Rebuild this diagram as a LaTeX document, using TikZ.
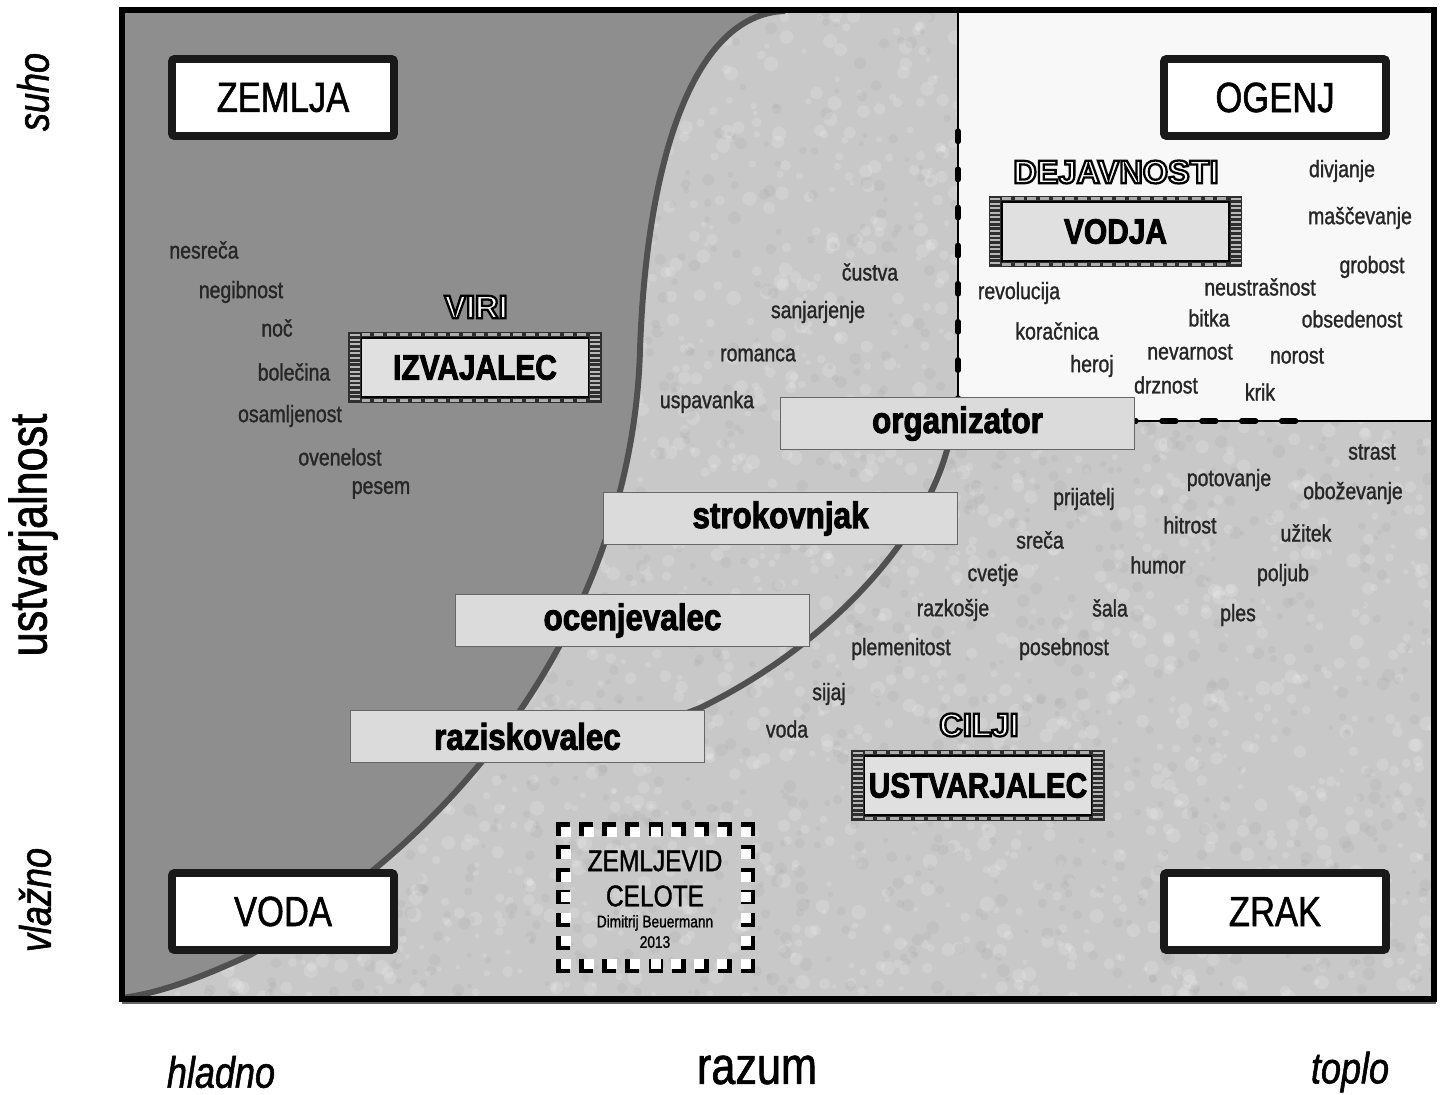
\documentclass[tikz,border=0pt]{standalone}
\usepackage{fontspec}
\setmainfont{Liberation Sans}[FakeStretch=0.82, FakeBold=1.2]
\newfontfamily\heavyfont{Liberation Sans}[FakeStretch=0.85, FakeBold=2.5]
\newfontfamily\rimfont{Liberation Sans}[FakeBold=7]
\usetikzlibrary{calc}

\definecolor{darkzone}{HTML}{8E8E8E}
\definecolor{lightzone}{HTML}{C8C8C8}
\definecolor{firezone}{HTML}{F8F8F8}
\definecolor{curveline}{HTML}{505050}

\tikzset{
  element/.style={draw=black!90, line width=4.5pt, fill=white, rounded corners=1.5pt,
    minimum width=4.44cm, minimum height=1.54cm, font=\fontsize{24}{28}\selectfont},
  role/.style={draw=black!60, line width=1pt, fill=black!14, inner sep=0pt,
    minimum width=7.08cm, minimum height=1.04cm, font=\heavyfont\bfseries\fontsize{21}{24}\selectfont},
  filmframe/.style={fill=black!82, inner sep=0pt, minimum width=5.08cm, minimum height=1.44cm},
  filmholes/.style={line width=1.7pt, black!32, dash pattern=on 5pt off 2.2pt},
  filmrungs/.style={line width=5.6pt, black!28, dash pattern=on 1.1pt off 1.5pt},
  filminner/.style={fill=black!12, draw=black, line width=0.8pt, inner sep=0pt,
    minimum width=4.54cm, minimum height=1.18cm, font=\heavyfont\bfseries\fontsize{20}{24}\selectfont},
  hollow/.style={font=\rimfont\bfseries\fontsize{18.5}{22}\selectfont},
  word/.style={text=black!85, font=\fontsize{13.5}{16}\selectfont},
  axis/.style={font=\fontsize{30}{34}\selectfont},
  pole/.style={font=\itshape\fontsize{25}{30}\selectfont},
  mapnote/.style={font=\fontsize{17}{20}\selectfont},
  border/.style={curveline, line width=3.4pt},
}

% framed box in film strip look: name, centre, text
\newcommand\filmbox[3]{%
  \node[filmframe] (#1) at (#2) {};
  \draw[filmholes] ($(#1.north west)+(14,3)$) -- ($(#1.north east)+(-14,3)$);
  \draw[filmholes] ($(#1.south west)+(14,-3)$) -- ($(#1.south east)+(-14,-3)$);
  \draw[filmrungs] ($(#1.north west)+(7,3)$) -- ($(#1.south west)+(7,-3)$);
  \draw[filmrungs] ($(#1.north east)+(-7,3)$) -- ($(#1.south east)+(-7,-3)$);
  \node[filminner] (#1-in) at (#1) {#3};
}
% white letters, outline stroked in black
\newcommand\rimtext[1]{\color{white}\special{pdf:literal direct 0 G}#1}

\begin{document}
\begin{tikzpicture}[x=0.02cm, y=-0.02cm]
\useasboundingbox (0,0) rectangle (1441,1095);
\fill[white] (0,0) rectangle (1441,1095);

% speckled ground
\fill[lightzone] (122,10) rectangle (1434,999);
\begin{scope}
  \clip (122,10) rectangle (1434,999);
  \pgfmathsetseed{42}
  \foreach \k in {1,...,2600}{
    \pgfmathsetmacro\sx{122+1312*rnd}
    \pgfmathsetmacro\sy{10+990*rnd}
    \pgfmathsetmacro\sr{1.2+3*rnd}
    \fill[white, opacity=.16] (\sx,\sy) circle[radius=\sr pt];
  }
  \foreach \k in {1,...,1600}{
    \pgfmathsetmacro\sx{122+1312*rnd}
    \pgfmathsetmacro\sy{10+990*rnd}
    \pgfmathsetmacro\sr{1.2+2.5*rnd}
    \fill[black!50, opacity=.09] (\sx,\sy) circle[radius=\sr pt];
  }
\end{scope}

% cold side
\fill[darkzone] (122,10) -- (785,10) .. controls (690,14) and (646,170) .. (640,350)
  .. controls (634,560) and (520,800) .. (250,955)
  .. controls (200,978) and (160,993) .. (122,998) -- cycle;
\draw[border] (785,11) .. controls (690,14) and (646,170) .. (640,350)
  .. controls (634,560) and (520,800) .. (250,955)
  .. controls (200,978) and (160,993) .. (122,998);
% second sweep from the fire corner
\draw[border] (952,425) .. controls (940,520) and (840,640) .. (700,708)
  .. controls (620,740) and (550,740) .. (502,736);

% fire quarter
\fill[firezone] (958,10) rectangle (1434,421);
\draw[line width=1pt] (958,10) -- (958,421) -- (1434,421);
\draw[line width=3pt, line cap=round, dash pattern=on 6pt off 15.7pt] (958,131) -- (958,400);
\draw[line width=3pt, line cap=round, dash pattern=on 8pt off 14.7pt] (1122,421) -- (1300,421);

% outer frame
\draw[line width=3.2pt] (122,10) rectangle (1434,999);
\draw[black!60, line width=1.5pt] (122,1003) -- (1436,1003);

% four elements
\node[element] (zemlja) at (283,97.5) {ZEMLJA};
\node[element] (ogenj) at (1275,97.5) {OGENJ};
\node[element] (voda) at (283,911.5) {VODA};
\node[element] (zrak) at (1275,911.5) {ZRAK};

% roles
\node[role] (organizator) at (957.5,423.5) {organizator};
\node[role] (strokovnjak) at (780.5,518.5) {strokovnjak};
\node[role] (ocenjevalec) at (632.5,620.5) {ocenjevalec};
\node[role] (raziskovalec) at (527.5,736.5) {raziskovalec};

\filmbox{izvajalec}{475,367.5}{IZVAJALEC}
\filmbox{vodja}{1115.5,231.5}{VODJA}
\filmbox{ustvarjalec}{978,785.5}{USTVARJALEC}

\node[hollow] (viri) at (476,307) {\rimtext{VIRI}};
\node[hollow] (dejavnosti) at (1116,172) {\rimtext{DEJAVNOSTI}};
\node[hollow] (cilji) at (979,725) {\rimtext{CILJI}};

% words, cold side
\node[word] (w1) at (204,250) {nesreča};
\node[word] (w2) at (241,292) {negibnost};
\node[word] (w3) at (277,328) {noč};
\node[word] (w4) at (294,372) {bolečina};
\node[word] (w5) at (290,416) {osamljenost};
\node[word] (w6) at (340,457) {ovenelost};
\node[word] (w7) at (381,490) {pesem};
% words, middle
\node[word] (w8) at (870,272) {čustva};
\node[word] (w9) at (818,312) {sanjarjenje};
\node[word] (w10) at (758,355) {romanca};
\node[word] (w11) at (707,402) {uspavanka};
% words, fire quarter
\node[word] (w12) at (1019,293) {revolucija};
\node[word] (w13) at (1057,331) {koračnica};
\node[word] (w14) at (1092,366) {heroj};
\node[word] (w15) at (1190,352) {nevarnost};
\node[word] (w16) at (1166,385) {drznost};
\node[word] (w17) at (1209,318) {bitka};
\node[word] (w18) at (1260,287) {neustrašnost};
\node[word] (w19) at (1260,392) {krik};
\node[word] (w20) at (1297,356) {norost};
\node[word] (w21) at (1352,319) {obsedenost};
\node[word] (w22) at (1372,267) {grobost};
\node[word] (w23) at (1360,218) {maščevanje};
\node[word] (w24) at (1342,171) {divjanje};
% words, warm and wet
\node[word] (w25) at (1372,452) {strast};
\node[word] (w26) at (1353,493) {oboževanje};
\node[word] (w27) at (1229,480) {potovanje};
\node[word] (w28) at (1084,499) {prijatelj};
\node[word] (w29) at (1190,525) {hitrost};
\node[word] (w30) at (1306,533) {užitek};
\node[word] (w31) at (1040,540) {sreča};
\node[word] (w32) at (1158,565) {humor};
\node[word] (w33) at (993,575) {cvetje};
\node[word] (w34) at (1283,575) {poljub};
\node[word] (w35) at (953,610) {razkošje};
\node[word] (w36) at (1110,608) {šala};
\node[word] (w37) at (1238,615) {ples};
\node[word] (w38) at (901,649) {plemenitost};
\node[word] (w39) at (1064,649) {posebnost};
\node[word] (w40) at (829,694) {sijaj};
\node[word] (w41) at (787,729) {voda};

% title stamp with cut-corner border
\foreach \i in {0,...,8}{
  \pgfmathsetmacro\dx{2.5*sign(4-\i)}
  \pgfmathsetmacro\px{563+23.125*\i}
  \fill[black] (\px-7,822) rectangle (\px+7,836);
  \fill[white] (\px-5+\dx,824+2.5) rectangle (\px+5+\dx,834+2.5);
  \fill[black] (\px-7,959) rectangle (\px+7,973);
  \fill[white] (\px-5+\dx,961-2.5) rectangle (\px+5+\dx,971-2.5);
}
\foreach \j in {1,...,5}{
  \pgfmathsetmacro\dy{2.5*sign(3-\j)}
  \pgfmathsetmacro\py{829+22.83*\j}
  \fill[black] (556,\py-7) rectangle (570,\py+7);
  \fill[white] (558+2.5,\py-5+\dy) rectangle (568+2.5,\py+5+\dy);
  \fill[black] (741,\py-7) rectangle (755,\py+7);
  \fill[white] (743-2.5,\py-5+\dy) rectangle (753-2.5,\py+5+\dy);
}
\node[mapnote] (title1) at (655,861) {ZEMLJEVID};
\node[mapnote] (title2) at (655,896) {CELOTE};
\node[font=\fontsize{9.5}{11}\selectfont] (author) at (655,923) {Dimitrij Beuermann};
\node[font=\fontsize{9.5}{11}\selectfont] (year) at (655,942) {2013};

% axes
\node[pole, rotate=90] (suho) at (33,92) {suho};
\node[axis, rotate=90] (ustv) at (33,535) {ustvarjalnost};
\node[pole, rotate=90] (vlazno) at (35,900) {vlažno};
\node[pole] (hladno) at (221,1072) {hladno};
\node[axis] (razum) at (757,1070) {razum};
\node[pole] (toplo) at (1350,1072) {toplo};
\end{tikzpicture}
\end{document}
